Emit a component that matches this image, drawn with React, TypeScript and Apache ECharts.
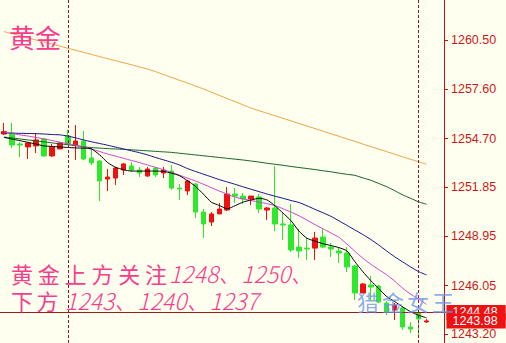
import React, { useEffect, useRef } from "react";
import * as echarts from "echarts";

// [open, close, low, high]
const candles: number[][] = [
  [1254.97, 1255.11, 1254.91, 1255.62],
  [1255.03, 1254.32, 1254.15, 1255.62],
  [1254.38, 1254.32, 1253.62, 1254.50],
  [1254.21, 1254.44, 1253.50, 1254.44],
  [1254.27, 1254.62, 1253.85, 1255.03],
  [1254.68, 1253.68, 1253.62, 1254.74],
  [1253.68, 1254.21, 1253.62, 1254.38],
  [1254.09, 1254.44, 1254.09, 1254.50],
  [1254.85, 1254.38, 1254.32, 1255.21],
  [1254.32, 1254.56, 1253.44, 1255.50],
  [1254.56, 1253.50, 1253.44, 1255.15],
  [1253.56, 1253.27, 1253.15, 1254.15],
  [1253.38, 1252.21, 1251.03, 1253.44],
  [1252.32, 1252.44, 1251.62, 1252.91],
  [1252.38, 1252.97, 1251.97, 1253.03],
  [1252.85, 1253.21, 1252.56, 1253.27],
  [1253.09, 1252.85, 1252.74, 1253.32],
  [1252.85, 1252.68, 1252.44, 1253.03],
  [1252.50, 1252.91, 1252.44, 1253.03],
  [1252.97, 1252.56, 1252.44, 1253.03],
  [1252.68, 1252.85, 1252.38, 1253.03],
  [1252.79, 1251.79, 1251.68, 1253.15],
  [1251.79, 1251.74, 1251.09, 1252.03],
  [1251.62, 1252.21, 1251.38, 1252.27],
  [1252.03, 1250.38, 1250.03, 1252.09],
  [1250.38, 1249.68, 1248.85, 1250.56],
  [1249.79, 1250.27, 1249.56, 1250.38],
  [1250.27, 1250.56, 1250.27, 1250.91],
  [1250.50, 1251.44, 1250.44, 1251.85],
  [1251.44, 1251.32, 1250.91, 1251.79],
  [1251.32, 1251.15, 1250.85, 1251.50],
  [1251.15, 1251.32, 1250.79, 1251.32],
  [1251.27, 1250.56, 1250.32, 1251.44],
  [1250.50, 1250.62, 1249.91, 1250.68],
  [1250.62, 1249.68, 1249.26, 1253.09],
  [1249.68, 1249.62, 1248.73, 1250.32],
  [1249.62, 1248.15, 1248.03, 1250.85],
  [1248.32, 1248.09, 1247.68, 1249.38],
  [1248.26, 1248.21, 1247.56, 1248.85],
  [1248.26, 1248.85, 1247.56, 1249.21],
  [1248.91, 1248.32, 1248.26, 1249.44],
  [1248.32, 1248.21, 1247.74, 1248.56],
  [1248.09, 1247.97, 1247.38, 1248.32],
  [1247.97, 1247.15, 1246.85, 1248.32],
  [1247.21, 1245.62, 1245.21, 1247.27],
  [1245.62, 1246.15, 1245.62, 1246.21],
  [1246.09, 1245.97, 1245.21, 1246.62],
  [1246.03, 1245.09, 1245.03, 1246.09],
  [1245.03, 1244.50, 1244.32, 1245.15],
  [1244.62, 1244.91, 1244.03, 1245.03],
  [1244.74, 1243.62, 1243.44, 1244.85],
  [1243.62, 1243.50, 1243.27, 1243.91],
  [1244.44, 1244.09, 1243.03, 1244.62],
  [1243.92, 1243.98, 1243.85, 1244.09],
];

const maOrange = [1260.99, 1260.87, 1260.75, 1260.62, 1260.50, 1260.38, 1260.26, 1260.14, 1260.01, 1259.89, 1259.77, 1259.65, 1259.52, 1259.40, 1259.28, 1259.16, 1259.04, 1258.91, 1258.79, 1258.64, 1258.47, 1258.30, 1258.13, 1257.97, 1257.79, 1257.62, 1257.43, 1257.24, 1257.05, 1256.87, 1256.68, 1256.49, 1256.34, 1256.19, 1256.04, 1255.89, 1255.74, 1255.59, 1255.44, 1255.29, 1255.14, 1254.98, 1254.84, 1254.68, 1254.54, 1254.38, 1254.23, 1254.08, 1253.93, 1253.78, 1253.63, 1253.48, 1253.34, 1253.19];

const maGreen = [1254.79, 1254.74, 1254.68, 1254.62, 1254.57, 1254.51, 1254.45, 1254.39, 1254.34, 1254.28, 1254.22, 1254.17, 1254.14, 1254.11, 1254.09, 1254.07, 1254.04, 1254.01, 1253.98, 1253.95, 1253.92, 1253.89, 1253.84, 1253.79, 1253.74, 1253.69, 1253.64, 1253.59, 1253.54, 1253.49, 1253.44, 1253.38, 1253.32, 1253.25, 1253.19, 1253.13, 1253.06, 1253.00, 1252.94, 1252.88, 1252.81, 1252.75, 1252.67, 1252.60, 1252.54, 1252.39, 1252.25, 1252.06, 1251.87, 1251.64, 1251.39, 1251.19, 1250.98, 1250.84];

const maBlue = [1255.03, 1255.02, 1255.01, 1255.00, 1254.99, 1254.97, 1254.94, 1254.92, 1254.85, 1254.74, 1254.62, 1254.51, 1254.41, 1254.31, 1254.20, 1254.09, 1253.98, 1253.87, 1253.74, 1253.59, 1253.45, 1253.31, 1253.15, 1252.94, 1252.77, 1252.61, 1252.45, 1252.29, 1252.15, 1252.01, 1251.86, 1251.72, 1251.58, 1251.44, 1251.31, 1251.19, 1251.06, 1250.94, 1250.75, 1250.54, 1250.34, 1250.13, 1249.87, 1249.60, 1249.33, 1249.06, 1248.77, 1248.44, 1248.09, 1247.75, 1247.45, 1247.15, 1246.88, 1246.68];

const maMagenta = [1255.08, 1255.01, 1254.92, 1254.85, 1254.77, 1254.68, 1254.59, 1254.49, 1254.40, 1254.31, 1254.21, 1254.08, 1253.94, 1253.79, 1253.67, 1253.54, 1253.41, 1253.29, 1253.15, 1253.01, 1252.87, 1252.72, 1252.55, 1252.38, 1252.21, 1252.02, 1251.82, 1251.62, 1251.43, 1251.25, 1251.15, 1251.06, 1250.97, 1250.87, 1250.76, 1250.57, 1250.38, 1250.16, 1249.91, 1249.64, 1249.40, 1249.15, 1248.90, 1248.50, 1248.08, 1247.67, 1247.31, 1247.00, 1246.69, 1246.32, 1245.90, 1245.55, 1245.27, 1244.95];

const maBlack = [1254.77, 1254.67, 1254.58, 1254.48, 1254.38, 1254.27, 1254.24, 1254.21, 1254.18, 1254.15, 1254.14, 1254.09, 1253.74, 1253.29, 1253.01, 1252.87, 1252.79, 1252.79, 1252.79, 1252.79, 1252.77, 1252.67, 1252.52, 1252.23, 1251.90, 1251.44, 1250.96, 1250.77, 1250.57, 1250.76, 1250.97, 1251.09, 1251.19, 1251.09, 1250.74, 1250.32, 1249.87, 1249.26, 1248.84, 1248.67, 1248.52, 1248.41, 1248.29, 1248.10, 1247.47, 1246.88, 1246.35, 1245.88, 1245.41, 1245.12, 1244.80, 1244.52, 1244.31, 1244.16];

const tickValues = [1260.5, 1257.6, 1254.7, 1251.85, 1248.95, 1246.05, 1243.2];
const priceLine = 1244.48;
const lastPrice = 1243.98;
const separatorIdx = ["8", "52"];
const categories = candles.map((_, i) => String(i)).concat(["54", "55"]);

const title = "黄金";
const noteLine1Cjk = ["黄", "金", "上", "方", "关", "注"];
const noteLine1Num = "1248、1250、";
const noteLine2Cjk = ["下", "方"];
const noteLine2Num = "1243、1240、1237";
const watermark = ["猎", "金", "女", "王"];

const yMin = 1242.68;
const yMax = 1262.85;

const PINK = "#fa3c8c";
const CJK = "'Noto Sans CJK SC', sans-serif";
const AXIS_FONT = "'Liberation Sans', Arial, sans-serif";

export default function App() {
  const ref = useRef<HTMLDivElement>(null);
  useEffect(() => {
    if (!ref.current) return;
    const chart = echarts.init(ref.current, undefined, { renderer: "svg" });

    const lineSeries = (data: number[], color: string) => ({
      type: "line",
      data,
      showSymbol: false,
      symbol: "none",
      smooth: 0.2,
      silent: true,
      lineStyle: { color, width: 1 },
      z: 3,
    });

    const boxLabel = (value: number) => ({
      show: true,
      position: "end",
      distance: 0,
      formatter: value.toFixed(2),
      color: "#ffffff",
      backgroundColor: "#ee1111",
      padding: [1, 8, 1, 6],
      fontSize: 12.5,
      fontFamily: AXIS_FONT,
    });

    const graphics: any[] = [];
    graphics.push({
      type: "text",
      z: 100,
      style: { text: title, x: 9, y: 36, fill: PINK, fontSize: 26, fontFamily: CJK, verticalAlign: "middle" },
    });
    noteLine1Cjk.forEach((ch, k) => {
      graphics.push({
        type: "text",
        z: 100,
        style: { text: ch, x: 11 + 26.8 * k, y: 272.5, fill: PINK, fontSize: 22, fontFamily: CJK, verticalAlign: "middle" },
      });
    });
    graphics.push({
      type: "text",
      z: 100,
      style: { text: noteLine1Num, x: 169, y: 272.5, fill: PINK, fontSize: 23, fontStyle: "italic", fontWeight: 300, fontFamily: CJK, verticalAlign: "middle" },
    });
    noteLine2Cjk.forEach((ch, k) => {
      graphics.push({
        type: "text",
        z: 100,
        style: { text: ch, x: 11 + 25.5 * k, y: 299.5, fill: PINK, fontSize: 22, fontFamily: CJK, verticalAlign: "middle" },
      });
    });
    graphics.push({
      type: "text",
      z: 100,
      style: { text: noteLine2Num, x: 65, y: 299.5, fill: PINK, fontSize: 23, fontStyle: "italic", fontWeight: 300, fontFamily: CJK, verticalAlign: "middle" },
    });
    watermark.forEach((ch, k) => {
      graphics.push({
        type: "text",
        z: 100,
        style: { text: ch, x: 357 + 25 * k, y: 301, fill: "rgba(105,145,235,0.75)", fontSize: 22, fontFamily: CJK, verticalAlign: "middle" },
      });
    });

    chart.setOption({
      animation: false,
      backgroundColor: "#fffff0",
      grid: { left: -1.5, right: 59.5, top: 0, bottom: 0, containLabel: false },
      xAxis: { type: "category", data: categories, show: false, boundaryGap: true },
      yAxis: {
        type: "value",
        position: "right",
        min: yMin,
        max: yMax,
        offset: -2.5,
        splitLine: { show: false },
        axisLine: { show: true, lineStyle: { color: "#c81010", width: 1 } },
        axisTick: { show: true, customValues: tickValues, length: 4, lineStyle: { color: "#c81010" } },
        axisLabel: {
          customValues: tickValues,
          formatter: (v: number) => v.toFixed(2),
          color: "#d01818",
          fontSize: 12.5,
          fontFamily: AXIS_FONT,
          margin: 7,
        },
      },
      series: [
        {
          type: "candlestick",
          data: candles,
          barWidth: 5,
          silent: true,
          itemStyle: {
            color: "#f01010",
            color0: "#2ee82e",
            borderColor: "#f01010",
            borderColor0: "#2ee82e",
            borderWidth: 1,
          },
          markLine: {
            silent: true,
            symbol: ["none", "none"],
            animation: false,
            data: [
              ...separatorIdx.map((x) => ({
                xAxis: x,
                lineStyle: { color: "#9a1030", width: 1, type: [3, 2] },
                label: { show: false },
              })),
              {
                yAxis: priceLine,
                lineStyle: { color: "#a01818", width: 1, type: "solid" },
                label: boxLabel(priceLine),
              },
            ],
          },
        },
        lineSeries(maOrange, "#f0a040"),
        lineSeries(maGreen, "#106020"),
        lineSeries(maBlue, "#101090"),
        lineSeries(maMagenta, "#d040d0"),
        lineSeries(maBlack, "#000000"),
        {
          type: "line",
          data: [],
          silent: true,
          z: 5,
          markLine: {
            silent: true,
            symbol: ["none", "none"],
            animation: false,
            data: [
              {
                yAxis: lastPrice,
                lineStyle: { color: "rgba(0,0,0,0)", width: 1 },
                label: boxLabel(lastPrice),
              },
            ],
          },
        },
      ],
      graphic: graphics,
    });
    return () => chart.dispose();
  }, []);
  return <div ref={ref} style={{ position: "fixed", left: 0, top: 0, width: 506, height: 343 }} />;
}
